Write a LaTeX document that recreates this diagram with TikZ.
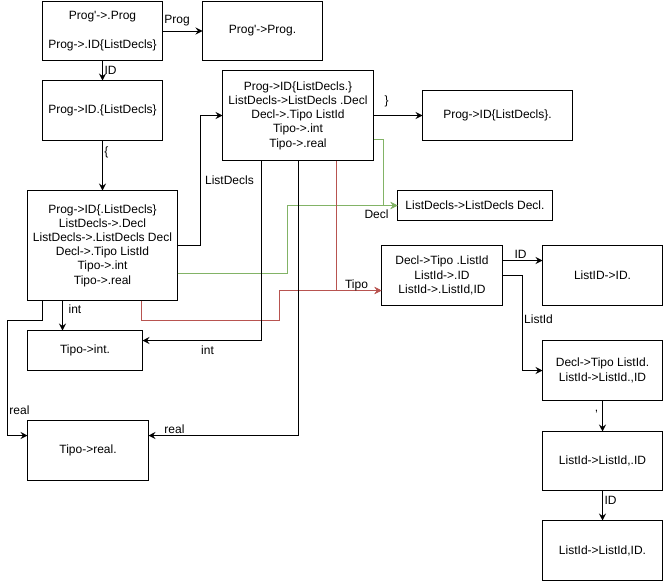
\documentclass[tikz,border=0pt]{standalone}
\usepackage{fontspec}
\setmainfont{Liberation Sans}[Ligatures=TeXOff]
\usetikzlibrary{arrows.meta}
\definecolor{declgreen}{HTML}{82B366}
\definecolor{tipored}{HTML}{B85450}
\begin{document}
\begin{tikzpicture}[x=1pt,y=-1pt,
  every node/.style={font=\fontsize{12}{14.2}\selectfont},
  item/.style={draw,line width=1pt,rectangle,inner sep=0pt,outer sep=0pt,align=center},
  lbl/.style={inner sep=0pt},
  conn/.style={line width=1pt,-{Stealth[length=7pt,width=7pt,inset=2.5pt]}},
  gconn/.style={conn,draw=declgreen,-{Stealth[length=7pt,width=7pt,inset=2.5pt,fill=declgreen]}},
  rconn/.style={conn,draw=tipored,-{Stealth[length=7pt,width=7pt,inset=2.5pt,fill=tipored]}}]
% half-unit offset keeps the 1pt strokes on whole pixels
\useasboundingbox (-0.5,-0.5) rectangle (662.5,580.5);

% item sets
\node[item,minimum width=120pt,minimum height=59pt] (A) at (102,30.5) {Prog'->.Prog\\[14.2pt]Prog->.ID\{ListDecls\}};
\node[item,minimum width=120pt,minimum height=59pt] (B) at (262,30.5) {Prog'->Prog.};
\node[item,minimum width=120pt,minimum height=60pt] (C) at (102,110) {Prog->ID.\{ListDecls\}};
\node[item,minimum width=150pt,minimum height=110pt] (D) at (102,245) {Prog->ID\{.ListDecls\}\\ListDecls->.Decl\\ListDecls->.ListDecls Decl\\Decl->.Tipo ListId\\Tipo->.int\\Tipo->.real};
\node[item,minimum width=151pt,minimum height=90pt] (E) at (297.5,115) {Prog->ID\{ListDecls.\}\\ListDecls->ListDecls .Decl\\Decl->.Tipo ListId\\Tipo->.int\\Tipo->.real};
\node[item,minimum width=150pt,minimum height=50pt] (F) at (497,115) {Prog->ID\{ListDecls\}.};
\node[item,minimum width=155pt,minimum height=30pt] (G) at (474.5,205) {ListDecls->ListDecls Decl.};
\node[item,minimum width=121pt,minimum height=60pt] (H) at (441.5,275) {Decl->Tipo .ListId\\ListId->.ID\\ListId->.ListId,ID};
\node[item,minimum width=120pt,minimum height=60pt] (I) at (602,275) {ListID->ID.};
\node[item,minimum width=120pt,minimum height=60pt] (J) at (602,370) {Decl->Tipo ListId.\\ListId->ListId.,ID};
\node[item,minimum width=120pt,minimum height=59pt] (K) at (602,460.5) {ListId->ListId,.ID};
\node[item,minimum width=120pt,minimum height=60pt] (L) at (602,550) {ListId->ListId,ID.};
\node[item,minimum width=115pt,minimum height=40pt] (M) at (84.5,350) {Tipo->int.};
\node[item,minimum width=121pt,minimum height=60pt] (N) at (87.5,450) {Tipo->real.};

% transitions
\draw[conn] (A.east) -- (B.west);
\draw[conn] (A) -- (C);
\draw[conn] (C) -- (D);
\draw[conn] (D.east) -- ++(23,0) |- (E.west);
\draw[conn] (E.east) -- (F.west);
\draw[gconn] ([yshift=21pt]E.south east) -- ++(10,0) |- (G.west);
\draw[gconn] ([yshift=27pt]D.south east) -- ++(110,0) |- (G.west);
\draw[rconn] ([xshift=114pt]E.south west) |- ([yshift=-15pt]H.west);
\draw[rconn] ([xshift=114pt]D.south west) -- ++(0,20) -- ++(138,0) |- ([yshift=-15pt]H.west);
\draw[conn] ([yshift=15pt]H.east) -- ([yshift=15pt]I.west);
\draw[conn] (H.east) -- ++(20,0) |- (J.west);
\draw[conn] (J) -- (K);
\draw[conn] (K) -- (L);
\draw[conn] ([xshift=35pt]D.south west) -- ([xshift=35pt]M.north west);
\draw[conn] ([xshift=39pt]E.south west) |- ([yshift=10pt]M.east);
\draw[conn] ([xshift=15pt]D.south west) -- ++(0,20) -- ++(-35,0) |- ([yshift=15pt]N.west);
\draw[conn] ([xshift=76pt]E.south west) |- ([yshift=15pt]N.east);

% transition labels
\node[lbl] (lProg) at (176.5,20) {Prog};
\node[lbl] (lIDa) at (110,70) {ID};
\node[lbl] (lOpen) at (106,152) {\{};
\node[lbl] (lListDecls) at (229,180) {ListDecls};
\node[lbl] (lClose) at (386,101) {\}};
\node[lbl] (lDecl) at (376,214) {Decl};
\node[lbl] (lTipo) at (356,285) {Tipo};
\node[lbl] (lIDb) at (520,254) {ID};
\node[lbl] (lListId) at (538,319) {ListId};
\node[lbl] (lComma) at (596,411) {,};
\node[lbl] (lIDc) at (610,500) {ID};
\node[lbl] (lInta) at (74.5,309) {int};
\node[lbl] (lIntb) at (207,350) {int};
\node[lbl] (lReala) at (19,410) {real};
\node[lbl] (lRealb) at (174,429) {real};
\end{tikzpicture}
\end{document}
